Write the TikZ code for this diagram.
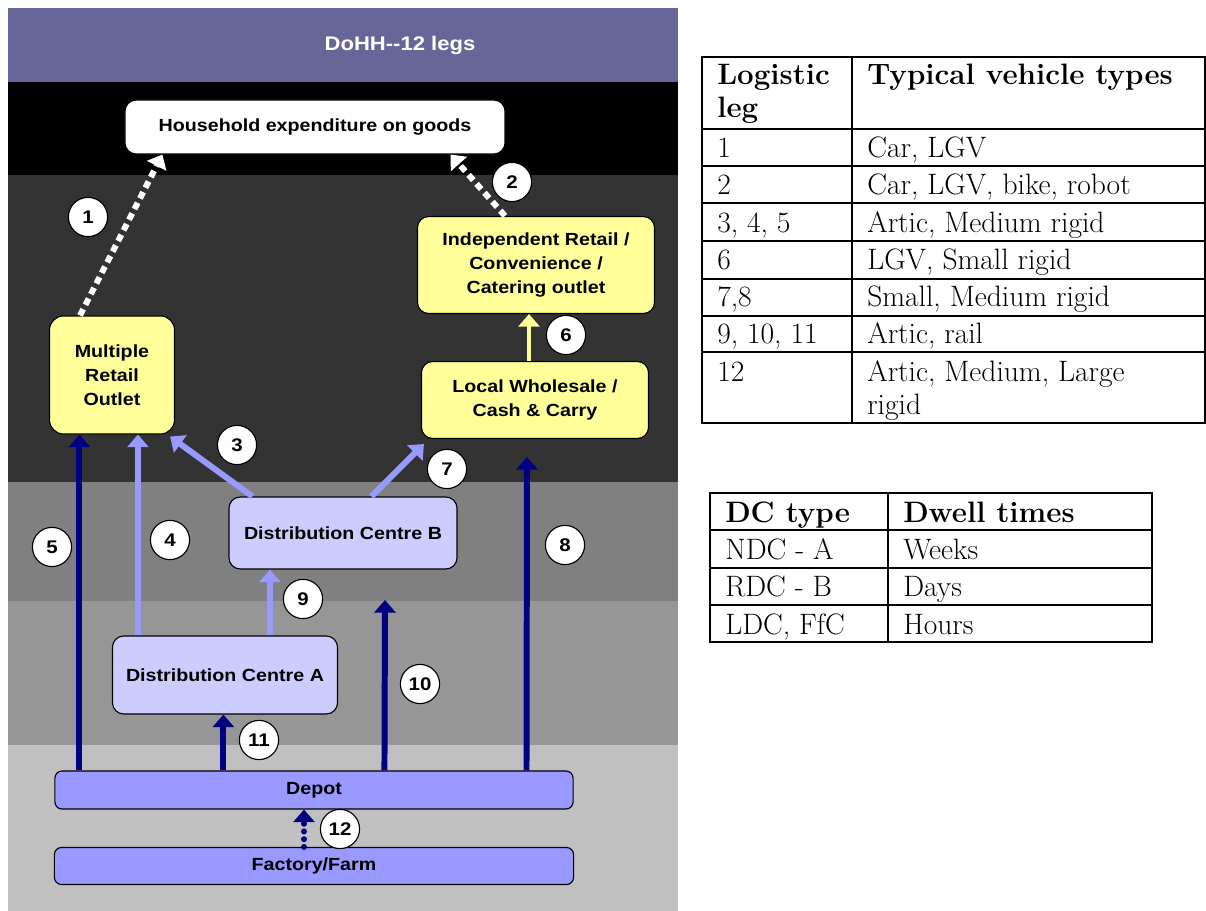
\documentclass[tikz,border=0pt]{standalone}
\usepackage{fontspec}
\newfontfamily\diagfont{Liberation Sans}[FakeStretch=1.12]
\usetikzlibrary{arrows.meta,positioning}
\definecolor{headcolor}{RGB}{102,102,153}
\definecolor{darkband}{RGB}{51,51,51}
\definecolor{midband}{RGB}{128,128,128}
\definecolor{greyband}{RGB}{150,150,150}
\definecolor{lightband}{RGB}{192,192,192}
\definecolor{shopcolor}{RGB}{255,255,153}
\definecolor{dccolor}{RGB}{204,204,255}
\definecolor{barcolor}{RGB}{153,153,255}
\definecolor{navycolor}{RGB}{0,0,128}

\begin{document}
\begin{tikzpicture}[%
    x=0.025cm, y=-0.025cm,                  % one unit is one pixel, y goes down
    >={Triangle[width=15pt,length=9pt]},    % broad flat arrow heads
    ]
\tikzset{
  base/.style={draw=black, line width=0.8pt, rounded corners=8pt, inner sep=0pt,
               align=center, font=\diagfont\bfseries\fontsize{12.5}{17}\selectfont},
  goal/.style={base, fill=white},
  shop/.style={base, fill=shopcolor},
  dc/.style={base, fill=dccolor},
  bar/.style={base, fill=barcolor, rounded corners=5pt},
  num/.style={circle, draw=black, fill=white, line width=0.8pt, minimum size=0.98cm,
              inner sep=0pt, font=\diagfont\bfseries\fontsize{13}{15}\selectfont},
  leg/.style={->, line width=4.25pt},
  walk/.style={leg, white, dash pattern=on 5pt off 3.5pt},
  road/.style={leg, navycolor},
  feed/.style={leg, barcolor},
  bulk/.style={leg, navycolor, line cap=round, dash pattern=on 0pt off 5.5pt},
  cell/.style={anchor=base west, inner sep=0pt, font=\fontsize{21}{25}\selectfont},
  hcell/.style={cell, font=\bfseries\fontsize{21}{25}\selectfont},
  rule/.style={line width=1.4pt},
}
\useasboundingbox (0,0) rectangle (1206,911);

% background bands
\fill[headcolor] (8,8) rectangle (678,82);
\fill[black] (8,82) rectangle (678,175);
\fill[darkband] (8,175) rectangle (678,482);
\fill[midband] (8,482) rectangle (678,601);
\fill[greyband] (8,601) rectangle (678,745);
\fill[lightband] (8,745) rectangle (678,911);

\node[font=\diagfont\bfseries\fontsize{14}{16}\selectfont, text=white] (title) at (400,45) {DoHH-{}-12 legs};

% boxes
\node[goal, minimum width=9.5cm, minimum height=1.35cm] (house) at (315,127) {Household expenditure on goods};
\node[shop, minimum width=3.125cm, minimum height=2.95cm, rounded corners=10pt] (mro) at (112,375) {Multiple\\Retail\\Outlet};
\node[shop, minimum width=5.925cm, minimum height=2.425cm] (indep) at (536,265) {Independent Retail /\\Convenience /\\Catering outlet};
\node[shop, minimum width=5.675cm, minimum height=1.925cm] (local) at (535,400) {Local Wholesale /\\Cash \& Carry};
\node[dc, minimum width=5.7cm, minimum height=1.8cm] (dcb) at (343,533) {Distribution Centre B};
\node[dc, minimum width=5.625cm, minimum height=1.95cm] (dca) at (225,675) {Distribution Centre A};
\node[bar, minimum width=12.95cm, minimum height=0.95cm] (depot) at (314,790) {Depot};
\node[bar, minimum width=12.975cm, minimum height=0.925cm] (farm) at (314,866) {Factory/Farm};

% start points and free ends
\coordinate (s4) at ([xshift=0.65cm]dca.north west);
\coordinate (s5) at ([xshift=0.625cm]depot.north west);
\coordinate (s6) at ([xshift=-0.15cm]local.north);
\coordinate (s8) at ([xshift=11.8cm]depot.north west);
\coordinate (e8) at (527,457);
\coordinate (s9) at ([xshift=3.95cm]dca.north west);
\coordinate (s10) at ([xshift=8.25cm]depot.north west);
\coordinate (e10) at (385,600);
\coordinate (s11) at ([xshift=4.225cm]depot.north west);
\coordinate (s12) at ([xshift=-0.25cm]farm.north);

%connect
\draw[walk] ([xshift=-0.8cm]mro.north) -- ([xshift=0.95cm]house.south west);
\draw[walk] ([xshift=-0.775cm]indep.north) -- ([xshift=-1.375cm]house.south east);
\draw[feed] ([xshift=0.6cm]dcb.north west) -- ([xshift=-0.125cm,yshift=-0.05cm]mro.south east);
\draw[feed] (s4) -- (s4 |- mro.south);
\draw[road] (s5) -- (s5 |- mro.south);
\draw[leg, shopcolor, line width=3.5pt] (s6) -- (s6 |- indep.south);
\draw[feed] ([xshift=3.575cm]dcb.north west) -- ([xshift=0.075cm,yshift=-0.125cm]local.south west);
\draw[road] (s8) -- (e8);
\draw[feed] (s9) -- (s9 |- dcb.south);
\draw[road] (s10) -- (e10);
\draw[road] (s11) -- (s11 |- dca.south);
\draw[bulk] (s12) -- (s12 |- depot.south);

% leg numbers
\node[num] (n1) at (88,217) {1};
\node[num] (n2) at (512,182) {2};
\node[num] (n3) at (237,445) {3};
\node[num] (n4) at (170,540) {4};
\node[num] (n5) at (52,547) {5};
\node[num] (n6) at (566,335) {6};
\node[num] (n7) at (447,469) {7};
\node[num] (n8) at (565,545) {8};
\node[num] (n9) at (303,599) {9};
\node[num] (n10) at (420,684) {10};
\node[num] (n11) at (259,740) {11};
\node[num] (n12) at (340,829) {12};

% vehicle table
\draw[rule] (702,57) rectangle (1205,423);
\draw[rule] (852,57) -- (852,423);
\foreach \y in {129,166,203,241,279,316,352}
  \draw[rule] (702,\y) -- (1205,\y);
\node[hcell] (vh1) at (717,85) {Logistic};
\node[hcell] (vh2) at (717,118) {leg};
\node[hcell] (vh3) at (867,85) {Typical vehicle types};
\foreach \y/\n/\a/\b in {158/1/{1}/{Car, LGV}, 195/2/{2}/{Car, LGV, bike, robot},
    233/3/{3, 4, 5}/{Artic, Medium rigid}, 270/4/{6}/{LGV, Small rigid},
    307/5/{7,8}/{Small, Medium rigid}, 344/6/{9, 10, 11}/{Artic, rail},
    382/7/{12}/{Artic, Medium, Large}} {
  \node[cell] (va\n) at (717,\y) {\a};
  \node[cell] (vb\n) at (867,\y) {\b};
}
\node[cell] (vb8) at (867,415) {rigid};

% dwell table
\draw[rule] (710,493) rectangle (1152,642);
\draw[rule] (888,493) -- (888,642);
\foreach \y in {530,568,605}
  \draw[rule] (710,\y) -- (1152,\y);
\node[hcell] (dh1) at (725,523) {DC type};
\node[hcell] (dh2) at (903,523) {Dwell times};
\node[cell] (da1) at (725,560) {NDC - A};
\node[cell] (db1) at (903,560) {Weeks};
\node[cell] (da2) at (725,597) {RDC - B};
\node[cell] (db2) at (903,597) {Days};
\node[cell] (da3) at (725,634) {LDC, FfC};
\node[cell] (db3) at (903,634) {Hours};

\end{tikzpicture}
\end{document}
